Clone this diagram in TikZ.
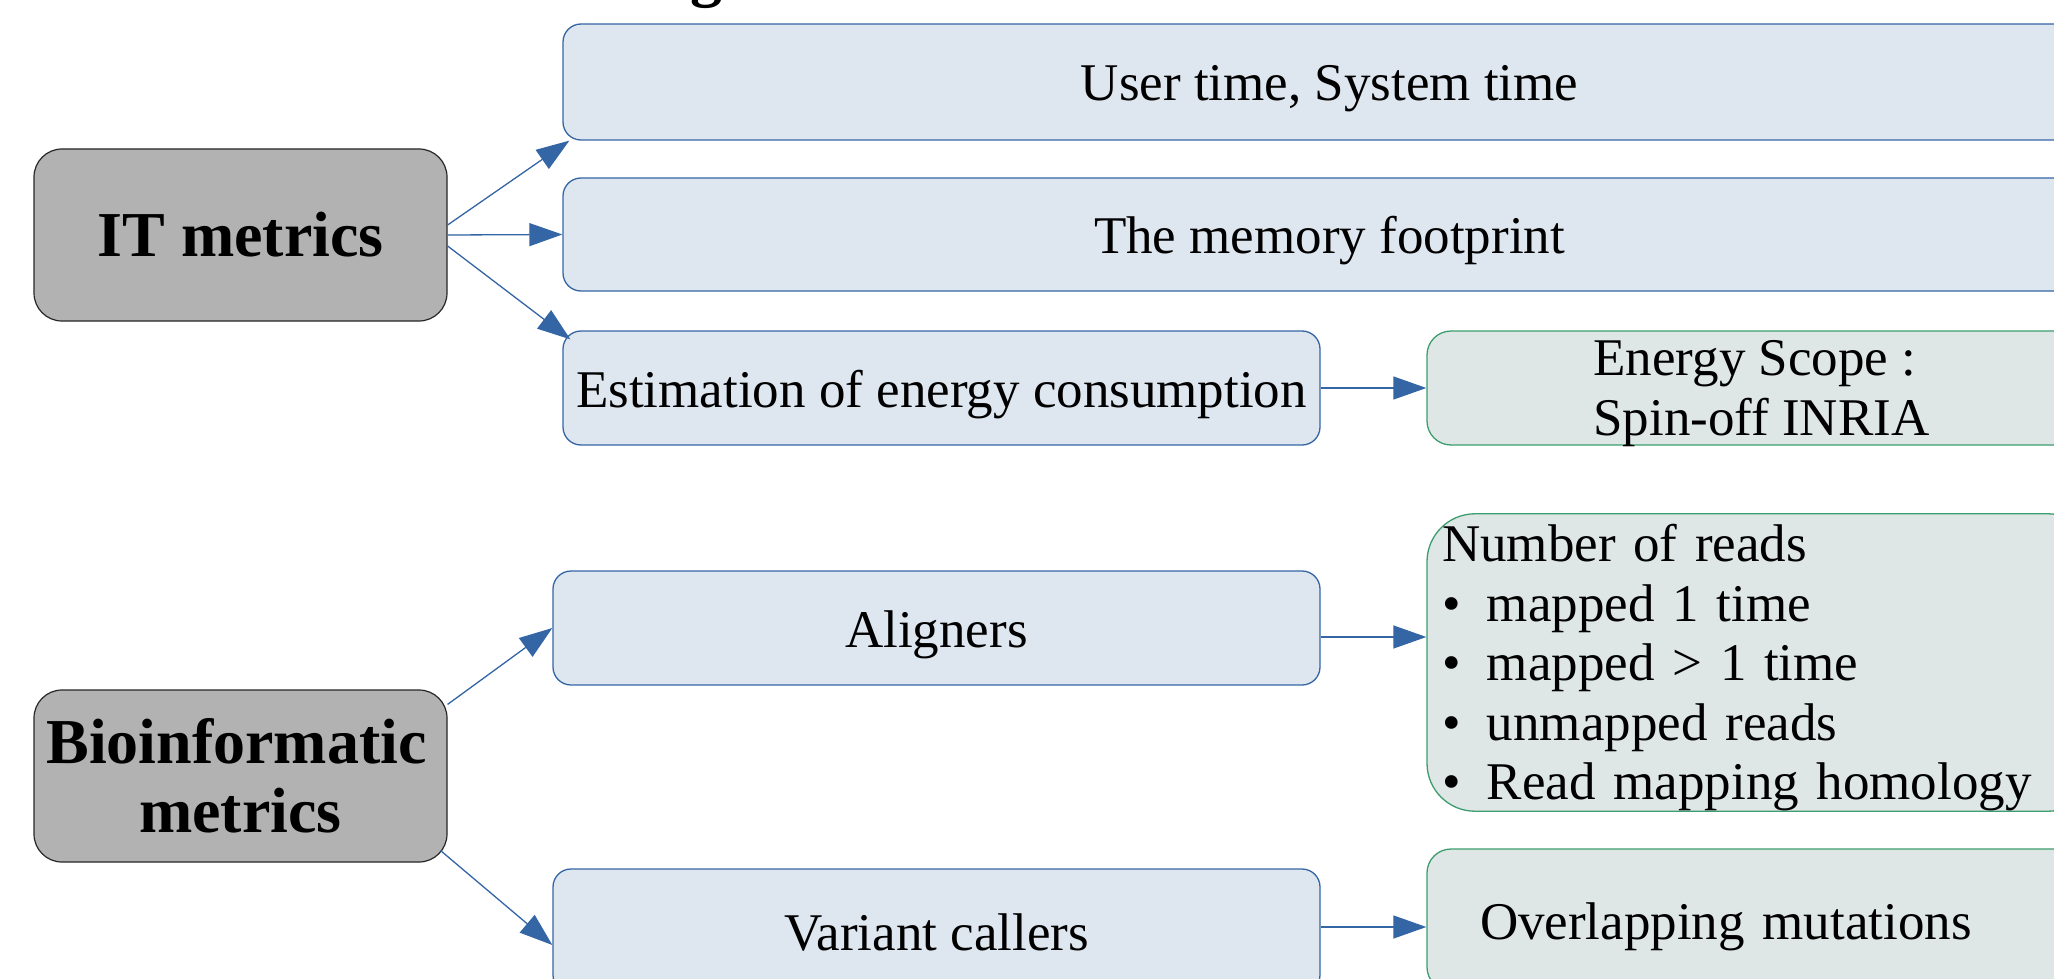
\documentclass[tikz,border=0pt]{standalone}
\usepackage{fontspec}
\setmainfont{Liberation Serif}
\usetikzlibrary{arrows.meta, calc}

\definecolor{boxblue}{HTML}{DEE6EF}
\definecolor{lineblue}{HTML}{3465A4}
\definecolor{boxgreen}{HTML}{DEE7E5}
\definecolor{linegreen}{HTML}{3C9E6E}
\definecolor{boxgray}{HTML}{B2B2B2}

\begin{document}
\begin{tikzpicture}[x=1pt, y=-1pt, >={Triangle[length=33pt,width=23pt]}, line join=round,
    metric/.style={draw=black!85, fill=boxgray, rounded corners=28pt, line width=1.2pt,
      minimum width=413pt, minimum height=172pt, inner sep=0pt, align=center,
      font=\fontsize{64}{69}\selectfont\bfseries},
    tool/.style={draw=lineblue, fill=boxblue, rounded corners=18pt, line width=1.3pt,
      inner sep=0pt, text height=38pt, text depth=0pt, font=\fontsize{53}{59.5}\selectfont},
    result/.style={draw=linegreen, fill=boxgreen, rounded corners=24pt, line width=1.3pt,
      inner sep=0pt, minimum width=669pt, font=\fontsize{53}{59.5}\selectfont},
    link/.style={->, draw=lineblue, fill=lineblue, line width=1.3pt}]
    \useasboundingbox (0,0) rectangle (2054,979);

    % title, cut off by the page
    \node[anchor=base west, inner sep=0pt, font=\fontsize{64}{69}\selectfont\bfseries] (ttl) at (690,-5) {g};

    % the two kinds of metrics
    \node[metric] (itm) at (240.5,235) {IT metrics};
    \node[metric] (bio) at (240.5,776) {Bioinformatic\hspace*{8pt}\\metrics};

    % IT side
    \node[tool, minimum width=1533pt, minimum height=116pt] (usr) at (1329.5,82) {User time, System time};
    \node[tool, minimum width=1533pt, minimum height=113pt] (mem) at (1329.5,234.5) {The memory footprint};
    \node[tool, minimum width=757pt, minimum height=114pt] (est) at (941.5,388) {Estimation of energy consumption};
    \node[result, minimum height=114pt, align=left] (nrg) at (1761.5,388) {Energy Scope :\\\smash{Spin-off INRIA}};

    % bioinformatic side
    \node[tool, minimum width=767pt, minimum height=114pt] (ali) at (936.5,628) {Aligners};
    \node[tool, minimum width=767pt, minimum height=124pt] (var) at (936.5,931) {Variant callers};
    \node[result, minimum height=297pt, rounded corners=48pt, text width=639pt, align=left] (nreads) at (1761.5,662.5)
      {\rule{0pt}{48pt}Number of reads\\
       \makebox[45pt][l]{•}mapped 1 time\\
       \makebox[45pt][l]{•}mapped > 1 time\\
       \makebox[45pt][l]{•}unmapped reads\\
       \makebox[45pt][l]{•}Read mapping homology};
    \node[result, minimum height=142pt, text width=563pt, inner xsep=53pt, align=left,
      text height=38pt, text depth=0pt] (ovl) at (1761.5,920) {Overlapping mutations};

    %--- arrows from IT metrics
    \draw[link] ($(itm.east)+(0,-10)$) -- ($(usr.south west)+(7,0)$);
    \draw[link] (itm.east) -- (mem.west);
    \draw[link] ($(itm.east)+(0,11)$) -- ($(est.north west)+(8,9)$);
    \draw[link] (est.east) -- (nrg.west);

    %--- arrows from bioinformatic metrics
    \draw[link] ($(bio.north east)+(0,15)$) -- (ali.west);
    \draw[link] ($(bio.south east)+(-7,-12)$) -- ($(var.west)+(0,14)$);
    \coordinate (alo) at ($(ali.east)+(0,9)$);
    \draw[link] (alo) -- (alo -| nreads.west);
    \coordinate (vro) at ($(var.east)+(0,-4)$);
    \draw[link] (vro) -- (vro -| ovl.west);
\end{tikzpicture}
\end{document}
